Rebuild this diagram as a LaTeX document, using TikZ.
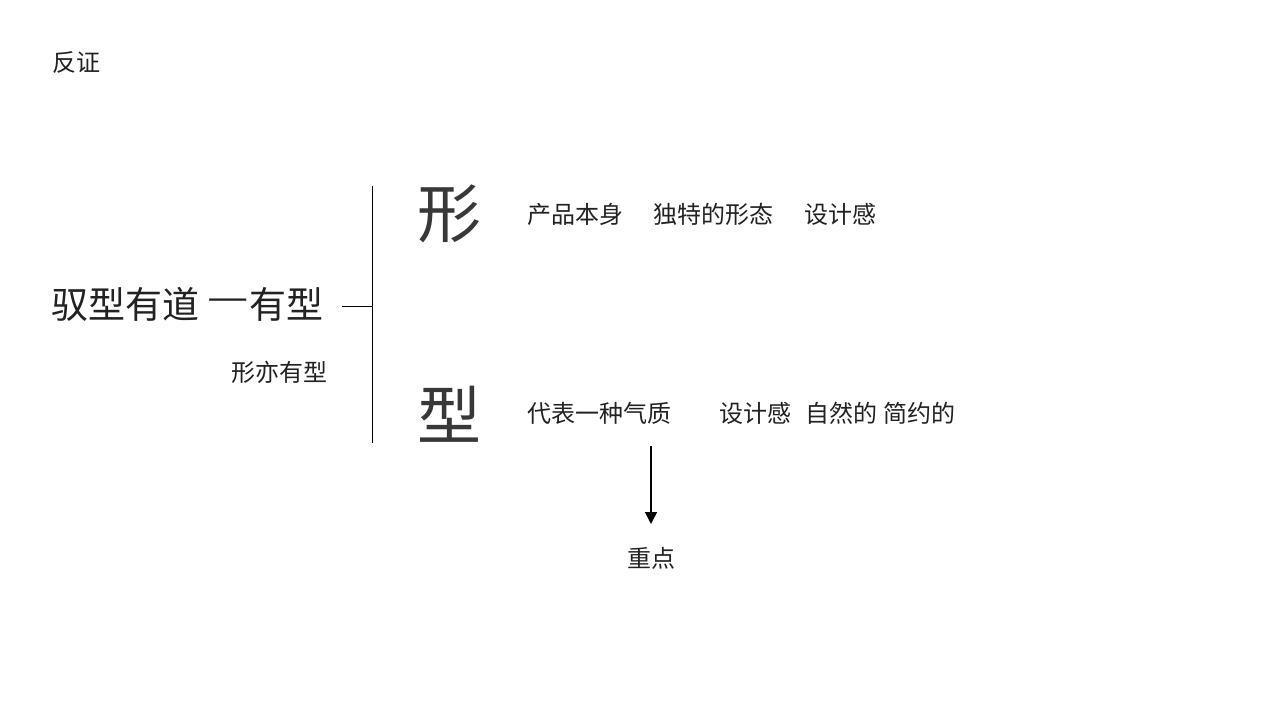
\documentclass[tikz,border=0pt]{standalone}
\usepackage{fontspec}
\newfontfamily\cjk{Noto Sans CJK SC}
\usetikzlibrary{arrows.meta}
\definecolor{txt}{HTML}{222222}
\begin{document}
\begin{tikzpicture}[x=1pt,y=-1pt,
  lbl/.style={inner sep=0pt,anchor=west,text=txt,font=\cjk\fontsize{24}{28}\selectfont},
  mainlbl/.style={inner sep=0pt,anchor=west,text=txt,font=\cjk\fontsize{37}{44}\selectfont},
  biglbl/.style={inner sep=0pt,anchor=center,text=txt!90!white,font=\cjk\fontsize{64}{70}\selectfont},
  ln/.style={line width=1pt,draw=black}]
\useasboundingbox[fill=white] (0,0) rectangle (1280,720);
\node[lbl] (fz) at (52,63) {反证};
\node[mainlbl] (main) at (51,304) {驭型有道};
\node[mainlbl] (dash) at (207,305) {\scalebox{1.25}[1]{—}};
\node[mainlbl] (main2) at (249,304) {有型};
\node[lbl] (sub) at (231,372) {形亦有型};
\coordinate (hl) at (342,306);
\coordinate (vm) at (372,306);
\coordinate (vt) at (372,186);
\coordinate (vb) at (372,443);
\draw[ln] (hl) -- (vm);
\draw[ln] (vt) -- (vb);
\node[biglbl] (xing) at (449,214) {形};
\node[biglbl] (xing2) at (449,414) {型};
\node[lbl] (a1) at (527,214) {产品本身};
\node[lbl] (a2) at (653,214) {独特的形态};
\node[lbl] (a3) at (804,214) {设计感};
\node[lbl] (b1) at (527,413) {代表一种气质};
\node[lbl] (b2) at (719,413) {设计感};
\node[lbl] (b3) at (805,413) {自然的};
\node[lbl] (b4) at (883,413) {简约的};
\node[lbl,anchor=center] (zd) at (651,558) {重点};
\coordinate (as) at (651,446);
\coordinate (ae) at (651,524);
\draw[ln,line width=1.5pt,-{Triangle[length=12pt,width=12pt]}] (as) -- (ae);
\end{tikzpicture}
\end{document}
